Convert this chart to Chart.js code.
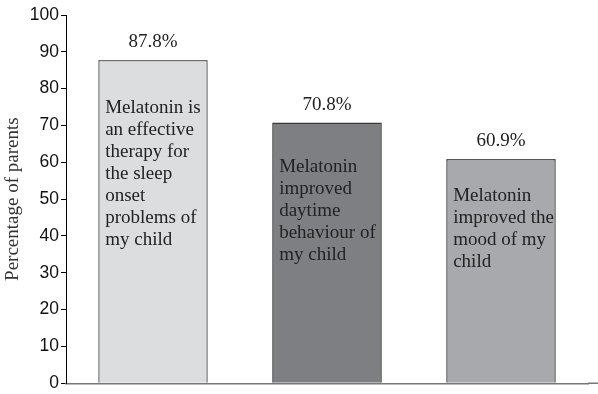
<!DOCTYPE html>
<html>
<head>
<meta charset="utf-8">
<script src="https://cdn.jsdelivr.net/npm/chart.js@4"></script>
<style>
  html, body { margin: 0; padding: 0; background: #fff; }
  #wrap { width: 598px; height: 394px; }
</style>
</head>
<body>
<div id="wrap"><canvas id="c" width="598" height="394"></canvas></div>
<script>
const categories = ["Effective therapy", "Daytime behaviour", "Mood"];
const values = [87.8, 70.8, 60.9];
const valueLabels = ["87.8%", "70.8%", "60.9%"];
const barTexts = [
  ["Melatonin is", "an effective", "therapy for", "the sleep", "onset", "problems of", "my child"],
  ["Melatonin", "improved", "daytime", "behaviour of", "my child"],
  ["Melatonin", "improved the", "mood of my", "child"]
];
const yTicks = [0, 10, 20, 30, 40, 50, 60, 70, 80, 90, 100];
const yTitle = "Percentage of parents";

const barLabelPlugin = {
  id: 'barLabels',
  afterDatasetsDraw(chart, args, opts) {
    const ctx = chart.ctx;
    const meta = chart.getDatasetMeta(0);
    ctx.save();
    ctx.fillStyle = '#222';
    ctx.font = '19px "Liberation Serif", "Times New Roman", serif';
    meta.data.forEach((bar, i) => {
      const left = bar.x - bar.width / 2;
      ctx.textAlign = 'center';
      ctx.textBaseline = 'middle';
      ctx.fillText(valueLabels[i], bar.x, bar.y - 18);
      ctx.textAlign = 'left';
      barTexts[i].forEach((ln, j) => {
        ctx.fillText(ln, left + 7, bar.y + opts.offsets[i] + j * 22);
      });
    });
    const a = chart.chartArea;
    ctx.strokeStyle = '#777';
    ctx.lineWidth = 1.5;
    ctx.beginPath();
    ctx.moveTo(a.right, a.bottom);
    ctx.lineTo(chart.width, a.bottom);
    ctx.stroke();
    ctx.restore();
  }
};

new Chart(document.getElementById('c'), {
  type: 'bar',
  data: {
    labels: categories,
    datasets: [{
      data: values,
      backgroundColor: ['#dcdddf', '#7e7f83', '#a8a9ac'],
      borderColor: ['#6f6f6f', '#3a3a3a', '#555555'],
      borderWidth: 1.5,
      categoryPercentage: 1,
      barPercentage: 0.63
    }]
  },
  options: {
    responsive: false,
    animation: false,
    devicePixelRatio: 1,
    layout: { padding: { top: 15, right: 10, bottom: 0, left: 0 } },
    plugins: {
      legend: { display: false },
      tooltip: { enabled: false },
      barLabels: { offsets: [48, 44, 37] }
    },
    scales: {
      x: {
        grid: { display: false, drawTicks: false },
        ticks: { display: false },
        border: { color: '#777', width: 1.5 },
        afterFit(scale) { scale.height = 10; }
      },
      y: {
        min: 0,
        max: 100,
        afterBuildTicks(scale) { scale.ticks = yTicks.map(v => ({ value: v })); },
        ticks: {
          color: '#111',
          padding: 2,
          font: { family: '"Liberation Sans", Arial, sans-serif', size: 17.5, lineHeight: 1 }
        },
        grid: { drawOnChartArea: false, drawTicks: true, tickLength: 5, color: '#000' },
        border: { color: '#000', width: 1 },
        title: {
          display: true,
          text: yTitle,
          color: '#333',
          padding: { top: 2, bottom: 0 },
          font: { family: '"Liberation Serif", "Times New Roman", serif', size: 19 }
        },
        afterFit(scale) { scale.width = 66; }
      }
    }
  },
  plugins: [barLabelPlugin]
});
</script>
</body>
</html>
